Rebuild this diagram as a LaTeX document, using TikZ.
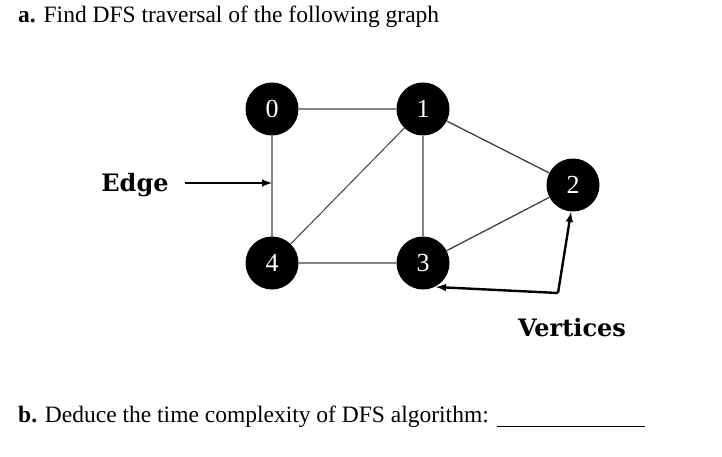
\documentclass[tikz,border=0pt]{standalone}
\usepackage{fontspec}
\setmainfont{Liberation Serif}
\newfontfamily\dvs{DejaVu Serif}
\begin{document}
\begin{tikzpicture}[x=1pt,y=-1pt,
  v/.style={circle,fill=black,minimum size=53pt,inner sep=0pt,text=white,font=\fontsize{26}{26}\selectfont},
  e/.style={draw=black!75,line width=1.3pt},
  lbl/.style={font=\dvs\bfseries\fontsize{24}{24}\selectfont,inner sep=0pt},
  ttl/.style={anchor=base west,inner sep=0pt,font=\fontsize{23.5}{24}\selectfont}]
\useasboundingbox (0,0) rectangle (722,457);
\node[ttl] (ta) at (18,23) {\textbf{a.} Find DFS traversal of the following graph};
\node[ttl] (tb) at (18,422) {\textbf{b.} Deduce the time complexity of DFS algorithm:};
\coordinate (u1) at (497,426); \coordinate (u2) at (645,426);
\draw[line width=1pt] (u1) -- (u2);
\node[v] (n0) at (272,109) {0};
\node[v] (n1) at (423,109) {1};
\node[v] (n2) at (573,185) {2};
\node[v] (n3) at (423,263) {3};
\node[v] (n4) at (272,263) {4};
\draw[e] (n0)--(n1) (n0)--(n4) (n4)--(n3) (n1)--(n3) (n1)--(n2) (n3)--(n2);
\draw[draw=black!75,line width=1pt] (n4)--(n1);
\node[lbl] (edge) at (135,185) {Edge};
\coordinate (ea) at (185,183); \coordinate (eb) at (272,183);
\draw[line width=2.4pt,-latex] (ea)--(eb);
\node[lbl] (vert) at (572,328) {Vertices};
\coordinate (c) at (558,293);
\coordinate (a2) at (571,212); \coordinate (a3) at (436,287);
\draw[line width=2.4pt,-latex] (c) -- (a2);
\draw[line width=2.4pt,-latex] (c) -- (a3);
\end{tikzpicture}
\end{document}
